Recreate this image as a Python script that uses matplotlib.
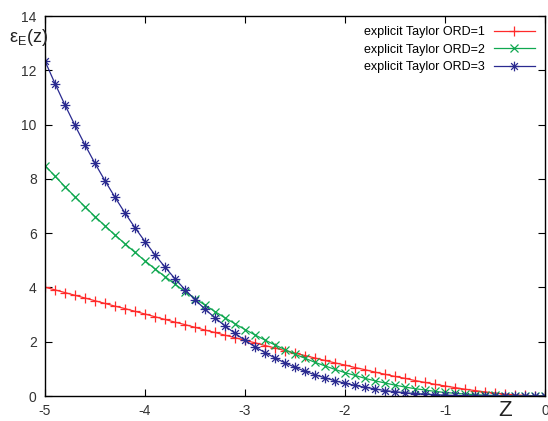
import matplotlib
matplotlib.use('Agg')
import matplotlib.pyplot as plt
from matplotlib.path import Path

plt.rcParams['font.family'] = ['Liberation Sans', 'DejaVu Sans']
plt.rcParams['axes.unicode_minus'] = False

# z grid, step 0.1
z = [-5.0, -4.9, -4.8, -4.7, -4.6, -4.5, -4.4, -4.3, -4.2, -4.1,
     -4.0, -3.9, -3.8, -3.7, -3.6, -3.5, -3.4, -3.3, -3.2, -3.1,
     -3.0, -2.9, -2.8, -2.7, -2.6, -2.5, -2.4, -2.3, -2.2, -2.1,
     -2.0, -1.9, -1.8, -1.7, -1.6, -1.5, -1.4, -1.3, -1.2, -1.1,
     -1.0, -0.9, -0.8, -0.7, -0.6, -0.5, -0.4, -0.3, -0.2, -0.1, 0.0]

err_ord1 = [4.01, 3.91, 3.81, 3.71, 3.61, 3.51, 3.41, 3.31, 3.22, 3.12,
            3.02, 2.92, 2.82, 2.72, 2.63, 2.53, 2.43, 2.34, 2.24, 2.15,
            2.05, 1.96, 1.86, 1.77, 1.67, 1.58, 1.49, 1.40, 1.31, 1.22,
            1.14, 1.05, 0.97, 0.88, 0.80, 0.72, 0.65, 0.57, 0.50, 0.43,
            0.37, 0.31, 0.25, 0.20, 0.15, 0.11, 0.07, 0.04, 0.02, 0.005, 0.0]

err_ord2 = [8.49, 8.10, 7.71, 7.34, 6.97, 6.61, 6.27, 5.93, 5.61, 5.29,
            4.98, 4.68, 4.40, 4.12, 3.85, 3.59, 3.35, 3.11, 2.88, 2.66,
            2.45, 2.25, 2.06, 1.88, 1.71, 1.54, 1.39, 1.24, 1.11, 0.98,
            0.86, 0.76, 0.65, 0.56, 0.48, 0.40, 0.33, 0.27, 0.22, 0.17,
            0.13, 0.10, 0.07, 0.05, 0.03, 0.02, 0.01, 0.004, 0.001, 0.0, 0.0]

err_ord3 = [12.34, 11.51, 10.72, 9.97, 9.25, 8.57, 7.93, 7.32, 6.74, 6.20,
            5.69, 5.20, 4.75, 4.32, 3.92, 3.55, 3.20, 2.88, 2.58, 2.31,
            2.05, 1.81, 1.60, 1.40, 1.22, 1.06, 0.91, 0.78, 0.67, 0.56,
            0.47, 0.39, 0.32, 0.26, 0.20, 0.16, 0.12, 0.09, 0.07, 0.05,
            0.03, 0.02, 0.01, 0.01, 0.005, 0.002, 0.001, 0.0, 0.0, 0.0, 0.0]

labels = ['explicit Taylor ORD=1', 'explicit Taylor ORD=2', 'explicit Taylor ORD=3']
colors = ['#ff2a2a', '#10a850', '#2a2a90']

# gnuplot style star: plus and cross together
star = Path([(-1, 0), (1, 0), (0, -1), (0, 1),
             (-0.7, -0.7), (0.7, 0.7), (-0.7, 0.7), (0.7, -0.7)],
            [Path.MOVETO, Path.LINETO] * 4)

fig = plt.figure(figsize=(5.48, 4.21), dpi=100)
ax = fig.add_axes([45 / 548, 25 / 421, 500 / 548, 380 / 421])

ax.plot(z, err_ord1, color=colors[0], lw=0.9, marker='+', ms=7, mew=0.9, label=labels[0])
ax.plot(z, err_ord2, color=colors[1], lw=0.9, marker='x', ms=6, mew=0.9, label=labels[1])
ax.plot(z, err_ord3, color=colors[2], lw=0.9, marker=star, ms=7, mew=0.9, label=labels[2])

ax.set_xlim(-5, 0)
ax.set_ylim(0, 14)
ax.set_xticks([-5, -4, -3, -2, -1, 0])
ax.set_yticks([0, 2, 4, 6, 8, 10, 12, 14])
ax.tick_params(direction='in', top=True, right=True, length=5, width=0.8,
               labelsize=10, labelcolor='#333333', pad=6)
for s in ax.spines.values():
    s.set_linewidth(1.0)

fig.text(9 / 548, 1 - 38 / 421, r'$\mathregular{ε_{E}(z)}$', fontsize=13,
         ha='left', va='center', color='#222222')
fig.text(505 / 548, 1 - 411 / 421, 'Z', fontsize=16, ha='center', va='center',
         color='#222222')

ax.legend(loc='upper right', frameon=False, markerfirst=False, fontsize=9,
          handlelength=3.3, borderaxespad=0.4, labelspacing=0.45, handletextpad=0.7)

fig.savefig('out.png', dpi=100)
